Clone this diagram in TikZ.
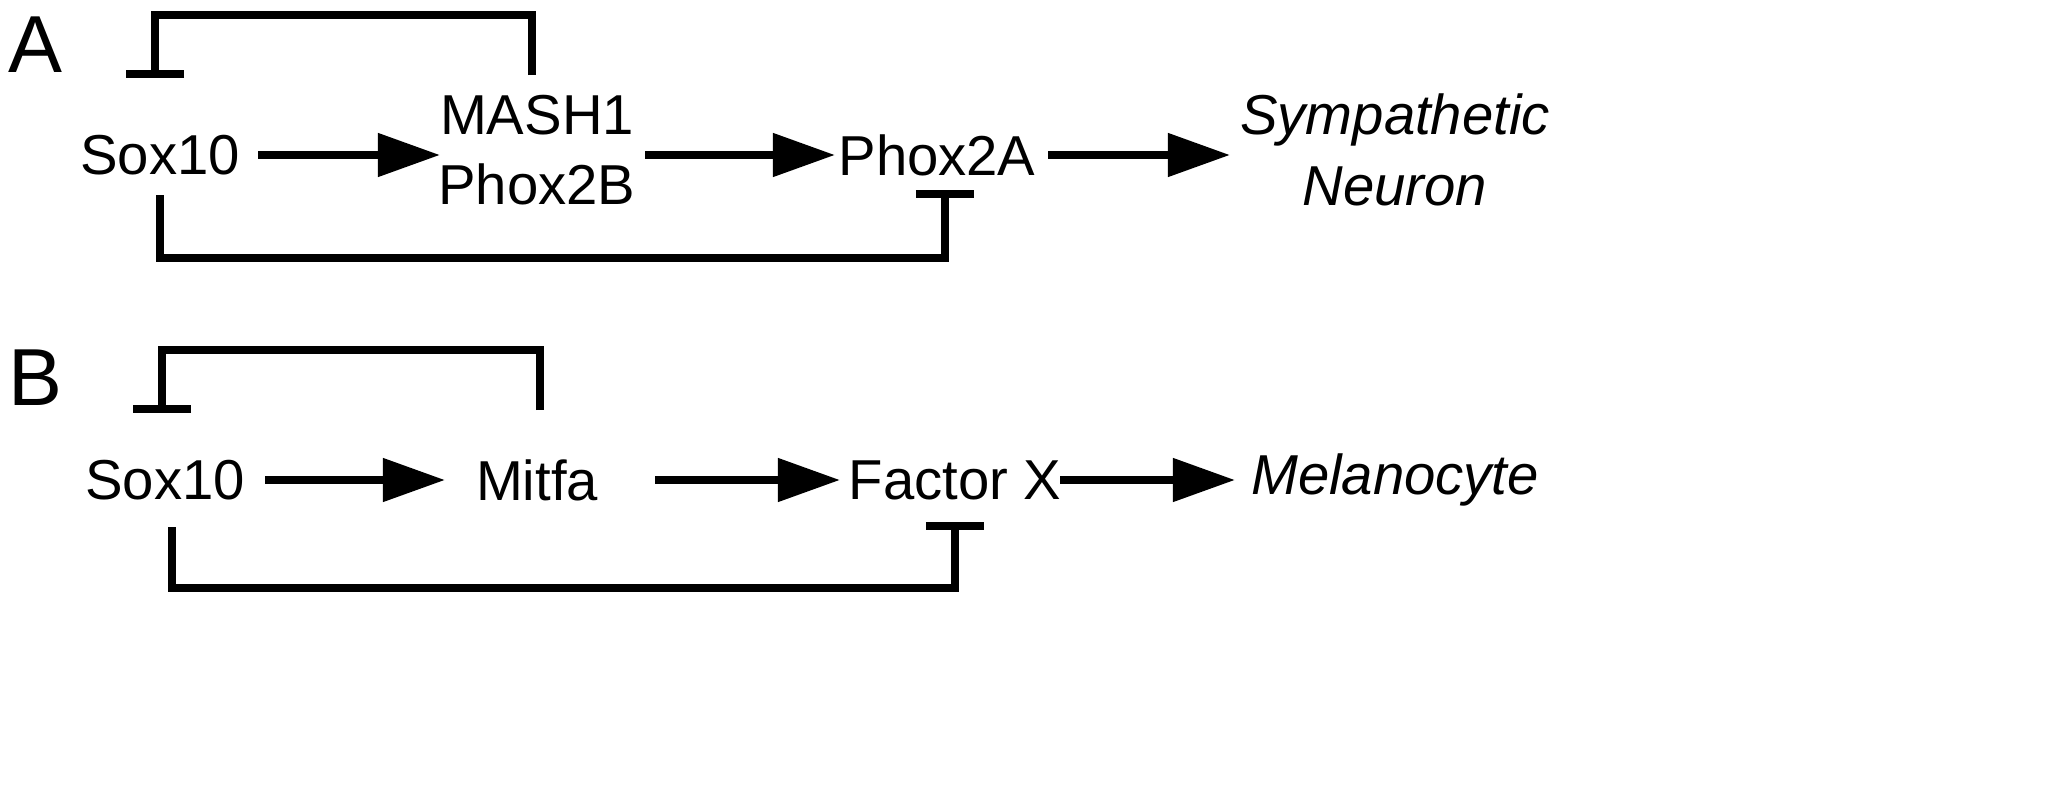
\documentclass[tikz,border=0pt]{standalone}
\usepackage{fontspec}
\setmainfont{Liberation Sans}
\usetikzlibrary{arrows.meta,positioning}
\tikzset{gene/.style = {font=\fontsize{16}{20}\selectfont, align=center, inner sep=0pt},
  fate/.style = {gene, font=\fontsize{16}{20}\selectfont\itshape},
  act/.style = {-{Triangle[length=0.62cm,width=0.42cm]}, line width=2.2pt},
  inh/.style = {-{Bar[width=0.58cm]}, line width=2.2pt},
  panel/.style = {font=\fontsize{23}{27}\selectfont}}
\begin{document}
\begin{tikzpicture}[x=0.01cm,y=-0.01cm]
\useasboundingbox (0,0) rectangle (2056,800);

% panel A
\node[panel] (lA) at (35,45) {A};
\node[gene] (soxA) at (160,155) {Sox10};
\node[gene] (mash) at (537,150) {MASH1\\Phox2B};
\node[gene] (phox) at (937,155) {Phox2A};
\node[fate] (symp) at (1395,150) {Sympathetic\\Neuron};
\draw[act] (258,155) -- (440,155);
\draw[act] (645,155) -- (835,155);
\draw[act] (1048,155) -- (1230,155);
\draw[inh] (532,75) |- (155,15) -- (155,78);
\draw[inh] (160,195) |- (945,258) -- (945,190);

% panel B
\node[panel] (lB) at (35,378) {B};
\node[gene] (soxB) at (165,480) {Sox10};
\node[gene] (mitf) at (537,480) {Mitfa};
\node[gene] (fx) at (955,480) {Factor X};
\node[fate] (mel) at (1395,480) {Melanocyte};
\draw[act] (265,480) -- (445,480);
\draw[act] (655,480) -- (840,480);
\draw[act] (1060,480) -- (1235,480);
\draw[inh] (540,410) |- (162,350) -- (162,413);
\draw[inh] (172,527) |- (955,588) -- (955,522);
\end{tikzpicture}
\end{document}
